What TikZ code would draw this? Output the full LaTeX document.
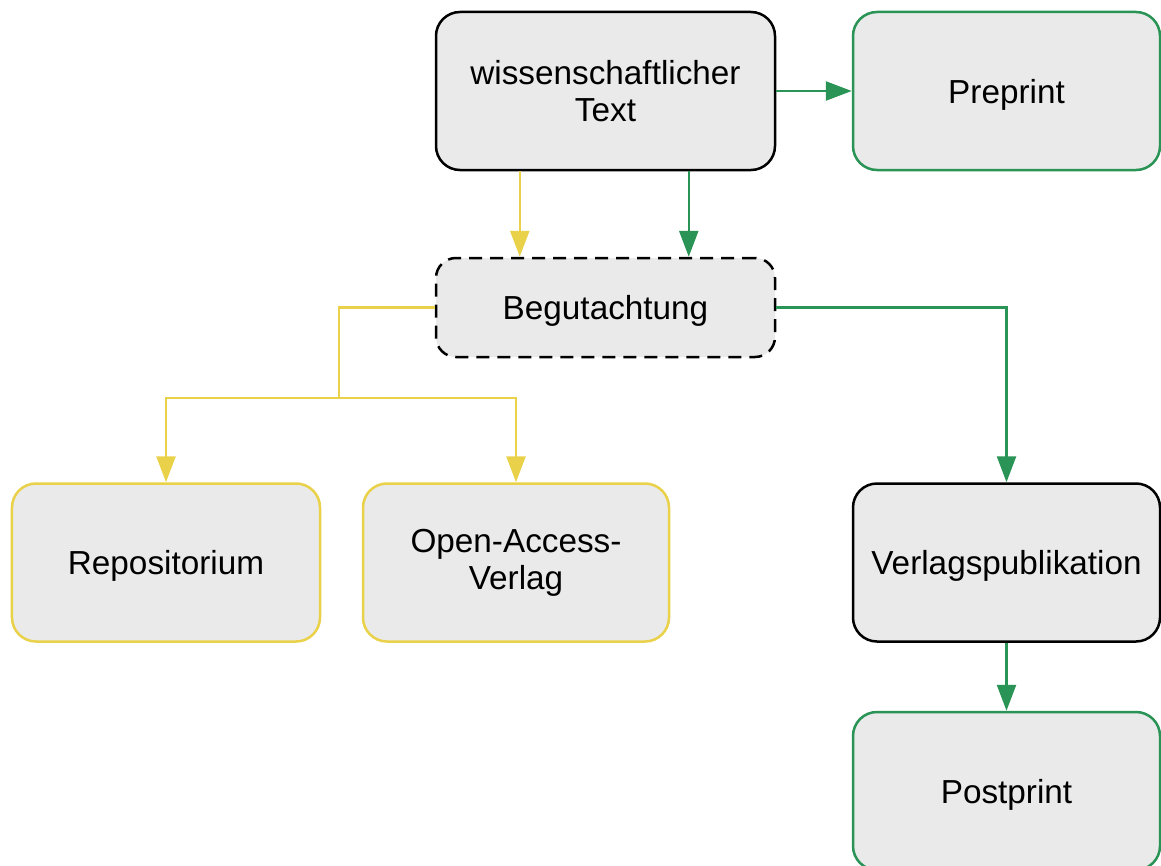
\documentclass[tikz,border=0pt]{standalone}
\usepackage{fontspec}
\setmainfont{Liberation Sans}
\usetikzlibrary{arrows.meta}

\definecolor{boxfill}{HTML}{EAEAEA}
\definecolor{oagreen}{HTML}{2A9456}
\definecolor{oayellow}{HTML}{EAD14A}

\tikzset{
  box/.style={rounded corners=24bp, fill=boxfill, line width=2.5bp,
    minimum width=307bp, minimum height=158bp, align=center,
    font=\fontsize{33.3bp}{37bp}\selectfont, inner sep=0pt},
  oneline/.style={text depth=0pt},
  blackbox/.style={box, draw=black},
  greenbox/.style={box, draw=oagreen},
  yellowbox/.style={box, draw=oayellow},
  dashbox/.style={box, draw=black, dash pattern=on 13bp off 8bp,
    rounded corners=20bp},
  tip/.style={-{Triangle[length=26bp,width=19bp]}},
  gline/.style={tip, draw=oagreen, line width=2.5bp},
  yline/.style={tip, draw=oayellow, line width=2.5bp},
}

\begin{document}
\begin{tikzpicture}[x=1bp, y=-1bp]
  \clip (0,0) rectangle (1161,866);
  \fill[white] (0,0) rectangle (1161,866);

  % boxes
  \node[blackbox, minimum width=339bp] (txt) at (605.5,91) {wissenschaftlicher\\Text};
  \node[greenbox, oneline] (pre) at (1006.5,91) {Preprint};
  \node[dashbox, oneline, minimum width=339bp, minimum height=99bp] (beg) at (605.5,307.5) {Begutachtung};
  \node[yellowbox, oneline, minimum width=308bp] (repo) at (166,562.5) {Repositorium};
  \node[yellowbox, minimum width=306bp] (oa) at (516,562.5) {Open-Access-\\Verlag};
  \node[blackbox, oneline] (verl) at (1006.5,562.5) {Verlagspublikation};
  \node[greenbox, oneline] (post) at (1006.5,791) {Postprint};

  % green path
  \draw[gline] (txt.east) -- (pre.west);
  \draw[gline] ([xshift=254bp]txt.south west) -- ([xshift=254bp]beg.north west);
  \draw[gline] (beg.east) -| (verl.north);
  \draw[gline] (verl.south) -- (post.north);

  % yellow path
  \coordinate (ysplit) at (339,398);
  \draw[yline] ([xshift=85bp]txt.south west) -- ([xshift=85bp]beg.north west);
  \draw[draw=oayellow, line width=2.5bp] (beg.west) -| (ysplit);
  \draw[yline] (ysplit) -| (repo.north);
  \draw[yline] (ysplit) -| (oa.north);
\end{tikzpicture}
\end{document}
